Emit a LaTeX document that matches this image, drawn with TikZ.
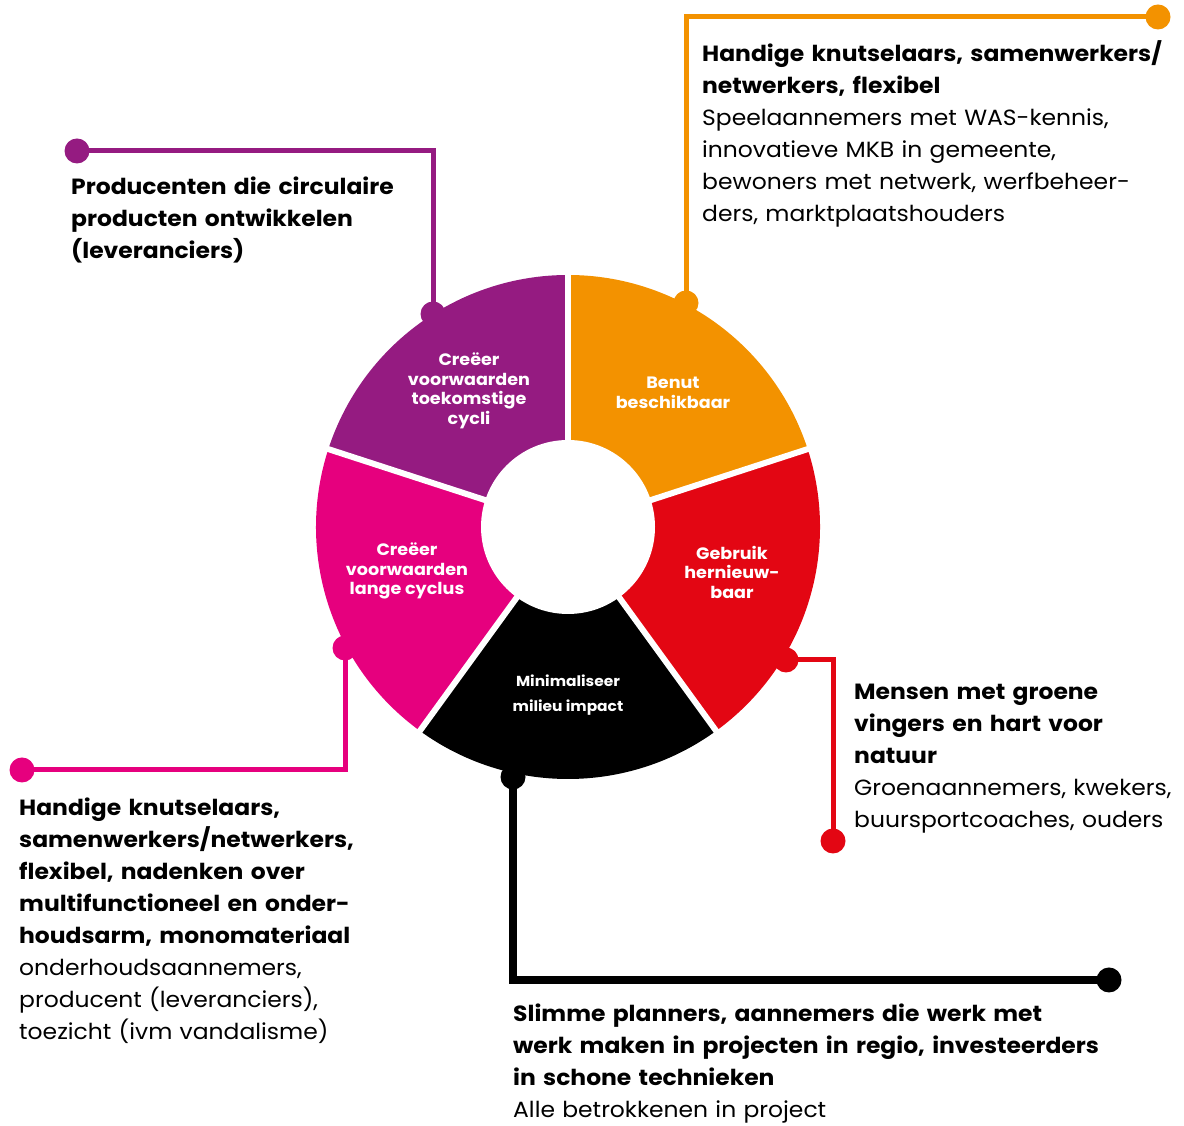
\documentclass[tikz,border=0pt]{standalone}
\usepackage{fontspec}
\setmainfont{Poppins}[FakeStretch=1.065]
\definecolor{cpurple}{HTML}{951B81}
\definecolor{corange}{HTML}{F39200}
\definecolor{cred}{HTML}{E30613}
\definecolor{cmagenta}{HTML}{E6007E}
\definecolor{cblack}{HTML}{000000}
\begin{document}
\begin{tikzpicture}[x=1pt,y=1pt,
  dot/.style={circle,fill=#1,inner sep=0pt,minimum size=25pt},
  conn/.style={draw=#1,line width=5pt},
  txt/.style={anchor=north west,inner sep=0pt,align=left,text width=620pt,
    font=\fontsize{22}{32}\selectfont},
  seg/.style={text=white,inner sep=0pt,align=center,
    font=\bfseries\fontsize{16.5}{19.5}\selectfont}]
\useasboundingbox (0,0) rectangle (1184,1126);
\coordinate (C) at (568,599);
% wheel sectors
\fill[corange]  (C) -- ++(18:252pt)  arc[start angle=18, end angle=90, radius=252pt] -- cycle;
\fill[cpurple]  (C) -- ++(90:252pt)  arc[start angle=90, end angle=162, radius=252pt] -- cycle;
\fill[cmagenta] (C) -- ++(162:252pt) arc[start angle=162,end angle=234, radius=252pt] -- cycle;
\fill[cblack]   (C) -- ++(234:252pt) arc[start angle=234,end angle=306, radius=252pt] -- cycle;
\fill[cred]     (C) -- ++(306:252pt) arc[start angle=306,end angle=378, radius=252pt] -- cycle;
\foreach \a in {18,90,162,234,306}
  \draw[white,line width=6pt] (C) -- ++(\a:258pt);
\fill[white] (C) circle[radius=87pt];
% sector labels
\node[seg] (s1) at (469,735) {Creëer\\voorwaarden\\toekomstige\\cycli};
\node[seg] (s2) at (673,733) {Benut\\beschikbaar};
\node[seg] (s3) at (732,554) {Gebruik\\hernieuw-\\baar};
\node[seg] (s4) at (407,555) {Creëer\\voorwaarden\\lange cyclus};
\node[seg,font=\bfseries\fontsize{14.5}{25}\selectfont] (s5) at (568,431) {Minimaliseer\\milieu impact};
% connector dots
\node[dot=cpurple]  (pd1) at (433,812) {};
\node[dot=cpurple]  (pd2) at (77,975) {};
\node[dot=corange]  (od1) at (686,823) {};
\node[dot=corange]  (od2) at (1158,1109) {};
\node[dot=cred]     (rd1) at (786,466) {};
\node[dot=cred]     (rd2) at (833,285) {};
\node[dot=cmagenta] (md1) at (345,478) {};
\node[dot=cmagenta] (md2) at (22,356) {};
\node[dot=cblack]   (bd1) at (513,349) {};
\node[dot=cblack]   (bd2) at (1109,146) {};
% connectors
\draw[conn=cpurple]  (pd1.center) |- (pd2.center);
\draw[conn=corange]  (od1.center) |- (od2.center);
\draw[conn=cred]     (rd1.center) -| (rd2.center);
\draw[conn=cmagenta] (md1.center) |- (md2.center);
\draw[conn=cblack,line width=7.5pt] (bd1.center) |- (bd2.center);
% text blocks
\node[txt] (tp) at (71,949.5) {\bfseries Producenten die circulaire\\producten ontwikkelen\\(leveranciers)};
\node[txt] (to) at (702,1085.5) {{\bfseries Handige knutselaars, samenwerkers/\\netwerkers, flexibel}\\Speelaannemers met WAS-kennis,\\innovatieve MKB in gemeente,\\bewoners met netwerk, werfbeheer-\\ders, marktplaatshouders};
\node[txt] (tr) at (854,442.5) {{\bfseries Mensen met groene\\vingers en hart voor\\natuur}\\Groenaannemers, kwekers,\\buursportcoaches, ouders};
\node[txt] (tm) at (19,328) {{\bfseries Handige knutselaars,\\samenwerkers/netwerkers,\\flexibel, nadenken over\\multifunctioneel en onder-\\houdsarm, monomateriaal}\\onderhoudsaannemers,\\producent (leveranciers),\\toezicht (ivm vandalisme)};
\node[txt] (tb) at (513,122) {{\bfseries Slimme planners, aannemers die werk met\\werk maken in projecten in regio, investeerders\\in schone technieken}\\Alle betrokkenen in project};
\end{tikzpicture}
\end{document}
